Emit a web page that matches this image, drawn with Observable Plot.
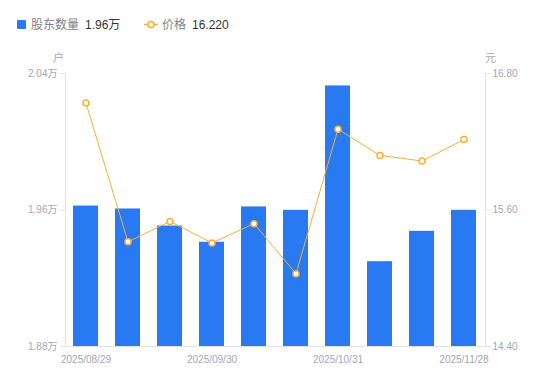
<!DOCTYPE html>
<html><head><meta charset="utf-8">
<script src="https://cdn.jsdelivr.net/npm/d3@7"></script>
<script src="https://cdn.jsdelivr.net/npm/@observablehq/plot@0.6"></script>
<style>
body{margin:0;background:#fff;font-family:"Liberation Sans",Arial,"Noto Sans CJK SC",sans-serif;}
#wrap{position:relative;width:550px;height:381px;overflow:hidden;}
.abs{position:absolute;white-space:nowrap;}
.lg{font-size:12px;line-height:15px;top:18px;}
.lgname{color:#7d808c;}
.lgval{color:#333;}
.unit{font-size:11px;color:#a3a6b4;top:51px;line-height:14px;}
</style></head>
<body><div id="wrap">
<div class="abs" style="left:17px;top:20px;width:9px;height:9px;background:#2979F2;border-radius:1px;"></div>
<div class="abs lg lgname" style="left:31px;">股东数量</div>
<div class="abs lg lgval" style="left:85px;">1.96万</div>
<svg class="abs" style="left:144px;top:20px;" width="14" height="9"><line x1="0" y1="4.5" x2="14" y2="4.5" stroke="#F9AE3A" stroke-width="1.5"/><circle cx="7" cy="4.5" r="3" fill="#fff" stroke="#F9AE3A" stroke-width="1.5"/></svg>
<div class="abs lg lgname" style="left:162px;">价格</div>
<div class="abs lg lgval" style="left:192px;">16.220</div>
<div class="abs unit" style="left:53px;">户</div>
<div class="abs unit" style="left:485px;">元</div>
<div id="chart" class="abs" style="left:0;top:0;"></div>
</div>
<script>
const dates = ["2025/08/29","2025/09/10","2025/09/19","2025/09/30","2025/10/10","2025/10/20","2025/10/31","2025/11/10","2025/11/20","2025/11/28"];
const holders = [1.9623,1.9606,1.9506,1.9411,1.9618,1.9598,2.0327,1.9297,1.9475,1.9598];
const prices = [16.54,15.32,15.50,15.31,15.48,15.04,16.31,16.08,16.03,16.22];
const leftTicks = [1.88,1.96,2.04];
const rightTicks = [14.40,15.60,16.80];
const xTickDates = ["2025/08/29","2025/09/30","2025/10/31","2025/11/28"];

const L0 = leftTicks[0], L1 = leftTicks[leftTicks.length-1];
const R0 = rightTicks[0], R1 = rightTicks[rightTicks.length-1];
const toLeft = p => L0 + (p - R0) / (R1 - R0) * (L1 - L0);
const toRight = v => R0 + (v - L0) / (L1 - L0) * (R1 - R0);

const data = dates.map((d,i)=>({date:d, holders:holders[i], price:prices[i]}));
const axisColor = "#e3e3e6", textColor = "#a3a6b4";

const chart = Plot.plot({
  width:550, height:381,
  marginLeft:65, marginRight:65, marginTop:73, marginBottom:35,
  style:{fontFamily:'"Liberation Sans",Arial,"Noto Sans CJK SC",sans-serif', fontSize:"10px", background:"transparent"},
  x:{type:"band", domain:dates, paddingInner:0.4, paddingOuter:0.2},
  y:{domain:[L0,L1]},
  marks:[
    Plot.barY(data,{x:"date", y1:L0, y2:"holders", fill:"#2979F2"}),
    Plot.ruleY([L0],{stroke:axisColor}),
    Plot.frame({anchor:"left", stroke:axisColor}),
    Plot.frame({anchor:"right", stroke:axisColor}),
    Plot.axisY(leftTicks,{anchor:"left", tickSize:5, tickPadding:3, stroke:axisColor, fill:textColor, label:null, tickFormat:d=>d.toFixed(2)+"万"}),
    Plot.axisY(rightTicks.map(toLeft),{anchor:"right", tickSize:5, tickPadding:2, stroke:axisColor, fill:textColor, label:null, tickFormat:d=>toRight(d).toFixed(2)}),
    Plot.axisX({ticks:xTickDates, tickSize:0, tickPadding:9, fill:textColor, label:null}),
    Plot.line(data,{x:"date", y:d=>toLeft(d.price), stroke:"#F9AE3A", strokeWidth:1}),
    Plot.dot(data,{x:"date", y:d=>toLeft(d.price), r:3, fill:"#fff", stroke:"#F9AE3A", strokeWidth:1.5})
  ]
});
document.getElementById("chart").appendChild(chart);
</script>
</body></html>
